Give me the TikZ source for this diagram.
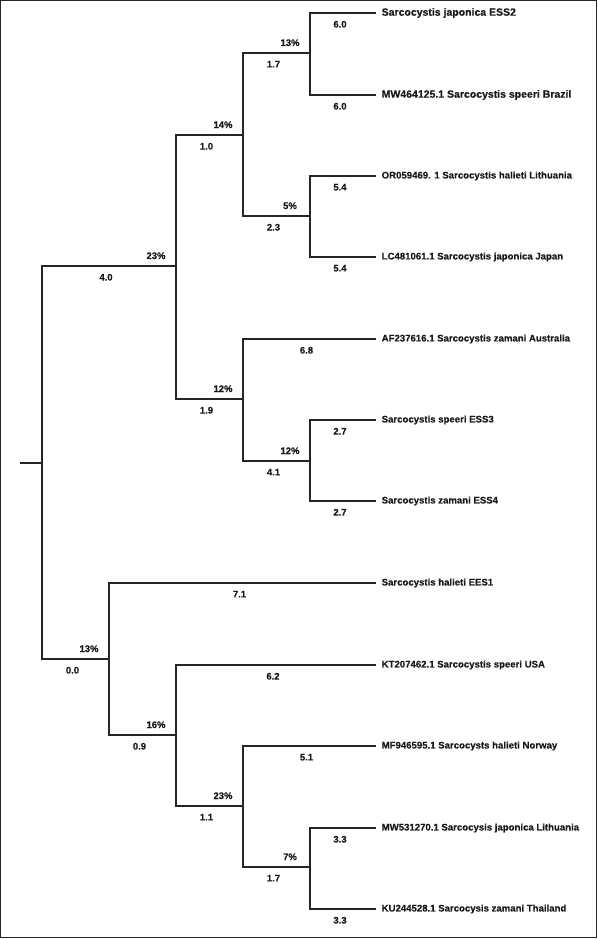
\documentclass[tikz,border=0pt]{standalone}
\usepackage{fontspec}
\setmainfont{Liberation Sans}[FakeBold=0.3]
\newcommand{\medfont}{\bfseries}
\begin{document}
\begin{tikzpicture}[x=1pt,y=-1pt,
    branch/.style={line width=1.8pt,draw=black!85},
    pct/.style={pos=1,anchor=south,inner sep=0pt,xshift=-20pt,yshift=6pt,
      font=\fontsize{9.5}{12}\selectfont\medfont,text=black!90},
    blen/.style={pos=0.75,anchor=north,inner sep=0pt,xshift=-3pt,yshift=-7pt,
      font=\fontsize{9.5}{12}\selectfont\medfont,text=black!90},
    leaf/.style={anchor=west,inner xsep=5.5pt,inner ysep=0pt,
      font=\fontsize{9.6}{12}\selectfont\medfont,text=black!90},
    bigleaf/.style={leaf,font=\fontsize{10.5}{13}\selectfont\medfont}]
        \useasboundingbox (0,0) rectangle (597,939);
        \draw[line width=1pt,black!85] (0.5,0.5) rectangle (596,937.5);
        % internal nodes
        \coordinate (base) at (20,463);
        \coordinate (r) at (42,463);
        \coordinate (a) at (176,266);
        \coordinate (b) at (243,135);
        \coordinate (c) at (310,53);
        \coordinate (d) at (310,216);
        \coordinate (e) at (243,399);
        \coordinate (f) at (310,461);
        \coordinate (g) at (109,659);
        \coordinate (h) at (176,735);
        \coordinate (i) at (243,806);
        \coordinate (j) at (310,867);
        % leaves
        \node[bigleaf] (s1) at (376,13) {Sarcocystis japonica ESS2};
        \node[bigleaf] (s2) at (376,95) {MW464125.1 Sarcocystis speeri Brazil};
        \node[leaf] (s3) at (376,176) {OR059469. 1 Sarcocystis halieti Lithuania};
        \node[leaf] (s4) at (376,257) {LC481061.1 Sarcocystis japonica Japan};
        \node[leaf] (s5) at (376,339) {AF237616.1 Sarcocystis zamani Australia};
        \node[leaf] (s6) at (376,420) {Sarcocystis speeri ESS3};
        \node[leaf] (s7) at (376,501) {Sarcocystis zamani ESS4};
        \node[leaf] (s8) at (376,583) {Sarcocystis halieti EES1};
        \node[leaf] (s9) at (376,665) {KT207462.1 Sarcocystis speeri USA};
        \node[leaf] (s10) at (376,746) {MF946595.1 Sarcocysts halieti Norway};
        \node[leaf] (s11) at (376,828) {MW531270.1 Sarcocysis japonica Lithuania};
        \node[leaf] (s12) at (376,909) {KU244528.1 Sarcocysis zamani Thailand};
        % root
        \draw[branch] (base) -- (r);
        % upper clade
        \draw[branch] (r) |- (a) node[pct] {23\%} node[blen] {4.0};
        \draw[branch] (a) |- (b) node[pct] {14\%} node[blen] {1.0};
        \draw[branch] (b) |- (c) node[pct] {13\%} node[blen] {1.7};
        \draw[branch] (c) |- (s1.west) node[blen] {6.0};
        \draw[branch] (c) |- (s2.west) node[blen] {6.0};
        \draw[branch] (b) |- (d) node[pct] {5\%} node[blen] {2.3};
        \draw[branch] (d) |- (s3.west) node[blen] {5.4};
        \draw[branch] (d) |- (s4.west) node[blen] {5.4};
        \draw[branch] (a) |- (e) node[pct] {12\%} node[blen] {1.9};
        \draw[branch] (e) |- (s5.west) node[blen] {6.8};
        \draw[branch] (e) |- (f) node[pct] {12\%} node[blen] {4.1};
        \draw[branch] (f) |- (s6.west) node[blen] {2.7};
        \draw[branch] (f) |- (s7.west) node[blen] {2.7};
        % lower clade
        \draw[branch] (r) |- (g) node[pct] {13\%} node[blen] {0.0};
        \draw[branch] (g) |- (s8.west) node[blen] {7.1};
        \draw[branch] (g) |- (h) node[pct] {16\%} node[blen] {0.9};
        \draw[branch] (h) |- (s9.west) node[blen] {6.2};
        \draw[branch] (h) |- (i) node[pct] {23\%} node[blen] {1.1};
        \draw[branch] (i) |- (s10.west) node[blen] {5.1};
        \draw[branch] (i) |- (j) node[pct] {7\%} node[blen] {1.7};
        \draw[branch] (j) |- (s11.west) node[blen] {3.3};
        \draw[branch] (j) |- (s12.west) node[blen] {3.3};
    \end{tikzpicture}
\end{document}
